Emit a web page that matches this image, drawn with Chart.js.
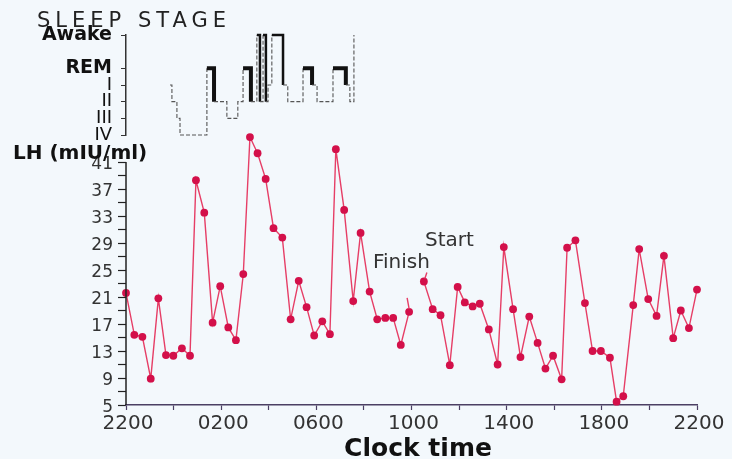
<!DOCTYPE html>
<html>
<head>
<meta charset="utf-8">
<title>LH and sleep stage</title>
<script src="https://cdn.jsdelivr.net/npm/chart.js@4.4.1/dist/chart.umd.min.js"></script>
<style>
  html, body { margin: 0; padding: 0; background: #f3f8fc; }
  #wrap { position: relative; width: 732px; height: 459px; }
  #wrap canvas { position: absolute; left: 0; top: 0; }
</style>
</head>
<body>
<div id="wrap">
  <canvas id="lhChart" width="732" height="459"></canvas>
  <canvas id="sleepChart" width="732" height="459"></canvas>
</div>
<script>
// hours after 2200 (0..24); null = gap between Finish and Start
const lhHours = [0, 0.35, 0.69, 1.04, 1.36, 1.68, 1.99, 2.35, 2.69, 2.94,
  3.29, 3.64, 3.96, 4.3, 4.62, 4.93, 5.21, 5.53, 5.87, 6.2,
  6.57, 6.92, 7.26, 7.59, 7.91, 8.25, 8.57, 8.82, 9.17, 9.55,
  9.86, 10.24, 10.56, 10.9, 11.23, 11.55, 11.9,
  12.2,
  12.52, 12.89, 13.22, 13.61, 13.94, 14.24, 14.57, 14.87, 15.25, 15.62,
  15.88, 16.27, 16.58, 16.95, 17.3, 17.63, 17.95, 18.31, 18.54, 18.89,
  19.29, 19.61, 19.96, 20.34, 20.62, 20.9, 21.32, 21.57, 21.95, 22.3,
  22.61, 23.0, 23.32, 23.66, 24.0];

// LH (mIU/ml)
const lhValues = [21.6, 15.4, 15.1, 8.9, 20.8, 12.4, 12.3, 13.4, 12.3, 38.3,
  33.5, 17.2, 22.6, 16.5, 14.6, 24.4, 44.7, 42.3, 38.5, 31.2,
  29.8, 17.7, 23.4, 19.5, 15.3, 17.4, 15.5, 42.9, 33.9, 20.4,
  30.5, 21.8, 17.7, 17.9, 17.9, 13.9, 18.8,
  null,
  23.3, 19.2, 18.3, 10.9, 22.5, 20.2, 19.6, 20.0, 16.2, 11.0,
  28.4, 19.2, 12.1, 18.1, 14.2, 10.4, 12.3, 8.8, 28.3, 29.4,
  20.1, 13.0, 13.0, 12.0, 5.5, 6.3, 19.8, 28.1, 20.7, 18.2,
  27.1, 14.9, 19.0, 16.4, 22.1];

const xTickLabels = ['2200', '0200', '0600', '1000', '1400', '1800', '2200'];
const lhTickLabels = [5, 9, 13, 17, 21, 25, 29, 33, 37, 41];
const LH_AXIS_TOP = 41; // axis line stops here, peaks go above it

// hypnogram: step starts (hours after 2200) and stage level
const sleepHours = [1.85, 1.93, 2.14, 2.27, 3.4, 3.7, 4.24, 4.7, 4.92, 5.25,
  5.5, 5.63, 5.76, 5.88, 5.97, 6.13, 6.6, 6.8, 7.44, 7.82,
  8.03, 8.7, 9.24, 9.41, 9.58];
const sleepLevels = [3, 2, 1, 0, 4, 2, 1, 2, 4, 2,
  6, 2, 6, 2, 3, 6, 3, 2, 4, 3,
  2, 4, 3, 2, 6];
const stageValues = [0, 1, 2, 3, 4, 6];
const stageLabels = ['IV', 'III', 'II', 'I', 'REM', 'Awake'];

const FONT = "'DejaVu Sans', sans-serif";
const LINE_RED = '#e63e66';
const DOT_RED = '#d3104a';

// extra texts (titles, Finish / Start with their little pointers) + y axis line
const textPlugin = {
  id: 'texts',
  afterDraw(chart) {
    const ctx = chart.ctx;
    const ys = chart.scales.y;
    ctx.save();

    // y axis line from 5 up to 41 only
    ctx.strokeStyle = '#222';
    ctx.lineWidth = 1.5;
    ctx.beginPath();
    ctx.moveTo(ys.right, ys.getPixelForValue(ys.min));
    ctx.lineTo(ys.right, ys.getPixelForValue(LH_AXIS_TOP));
    ctx.stroke();

    ctx.fillStyle = '#222';
    ctx.textBaseline = 'alphabetic';
    ctx.font = '21px ' + FONT;
    ctx.letterSpacing = '5px';
    ctx.textAlign = 'left';
    ctx.fillText('SLEEP STAGE', 37, 27);
    ctx.letterSpacing = '0px';

    ctx.fillStyle = '#111';
    ctx.font = 'bold 20px ' + FONT;
    ctx.fillText('LH (mIU/ml)', 13, 159);

    ctx.font = 'bold 25px ' + FONT;
    ctx.textAlign = 'center';
    ctx.fillText('Clock time', 418, 456);

    ctx.fillStyle = '#333';
    ctx.font = '20px ' + FONT;
    ctx.textAlign = 'left';
    ctx.fillText('Finish', 373, 268);
    ctx.fillText('Start', 425, 246);

    const meta = chart.getDatasetMeta(0);
    const gap = lhValues.indexOf(null);
    const pF = meta.data[gap - 1];
    const pS = meta.data[gap + 1];
    ctx.strokeStyle = LINE_RED;
    ctx.lineWidth = 1.4;
    ctx.beginPath();
    ctx.moveTo(pF.x, pF.y - 3);
    ctx.lineTo(pF.x - 2, pF.y - 14);
    ctx.moveTo(pS.x + 1, pS.y - 3);
    ctx.lineTo(pS.x + 3, pS.y - 9);
    ctx.stroke();
    ctx.restore();
  }
};

new Chart(document.getElementById('lhChart'), {
  type: 'line',
  data: {
    datasets: [{
      data: lhHours.map((h, i) => ({ x: h, y: lhValues[i] })),
      borderColor: LINE_RED,
      borderWidth: 1.4,
      pointRadius: 3.9,
      pointHoverRadius: 3.9,
      pointBackgroundColor: DOT_RED,
      pointBorderWidth: 0,
      spanGaps: false,
      clip: false,
      tension: 0
    }]
  },
  options: {
    responsive: false,
    devicePixelRatio: 1,
    animation: false,
    layout: { padding: { left: 0, right: 35, top: 135, bottom: 0 } },
    plugins: { legend: { display: false }, tooltip: { enabled: false } },
    scales: {
      x: {
        type: 'linear', min: 0, max: 24,
        afterFit: s => { s.height = 54; },
        border: { color: '#4b3f63', width: 1.5 },
        grid: { drawOnChartArea: false, tickLength: 5, color: '#4b3f63', tickWidth: 1.2 },
        ticks: {
          stepSize: 2, autoSkip: false, maxRotation: 0, padding: 2, labelOffset: 2,
          color: '#333', font: { family: FONT, size: 20 },
          callback: v => (v % 4 === 0 ? xTickLabels[v / 4] : '')
        }
      },
      y: {
        min: 5, max: 45,
        afterFit: s => { s.width = 126; },
        border: { display: false },
        grid: { drawOnChartArea: false, tickLength: 8, color: '#222', tickWidth: 1.2 },
        ticks: {
          stepSize: 2, autoSkip: false, padding: 5, labelOffset: 3,
          color: '#333', font: { family: FONT, size: 17 },
          callback: v => (v > LH_AXIS_TOP ? null : (lhTickLabels.includes(v) ? String(v) : ''))
        }
      }
    }
  },
  plugins: [textPlugin]
});

new Chart(document.getElementById('sleepChart'), {
  type: 'line',
  data: {
    datasets: [{
      data: sleepHours.map((h, i) => ({ x: h, y: sleepLevels[i] })),
      stepped: true,
      pointRadius: 0,
      borderColor: '#555',
      borderWidth: 1,
      clip: false,
      segment: {
        borderWidth: c => (c.p0.parsed.y === 4 ? 4 : (c.p0.parsed.y === 6 ? 2.5 : 1.1)),
        borderColor: c => (c.p0.parsed.y >= 4 ? '#111' : '#555'),
        borderDash: c => (c.p0.parsed.y >= 4 ? [] : [4, 2])
      }
    }]
  },
  options: {
    responsive: false,
    devicePixelRatio: 1,
    animation: false,
    layout: { padding: { left: 0, right: 35, top: 35, bottom: 324 } },
    plugins: { legend: { display: false }, tooltip: { enabled: false } },
    scales: {
      x: { type: 'linear', min: 0, max: 24, display: false },
      y: {
        min: 0, max: 6,
        afterFit: s => { s.width = 126; },
        afterBuildTicks: s => { s.ticks = stageValues.map(v => ({ value: v })); },
        border: { color: '#333', width: 1.5 },
        grid: { drawOnChartArea: false, tickLength: 5, color: '#333' },
        ticks: {
          autoSkip: false, padding: 9, color: '#111',
          font: c => ({
            family: FONT,
            size: c.tick && c.tick.value >= 4 ? 19 : 18,
            weight: c.tick && c.tick.value >= 4 ? 'bold' : 'normal'
          }),
          callback: v => stageLabels[stageValues.indexOf(v)]
        }
      }
    }
  }
});
</script>
</body>
</html>
